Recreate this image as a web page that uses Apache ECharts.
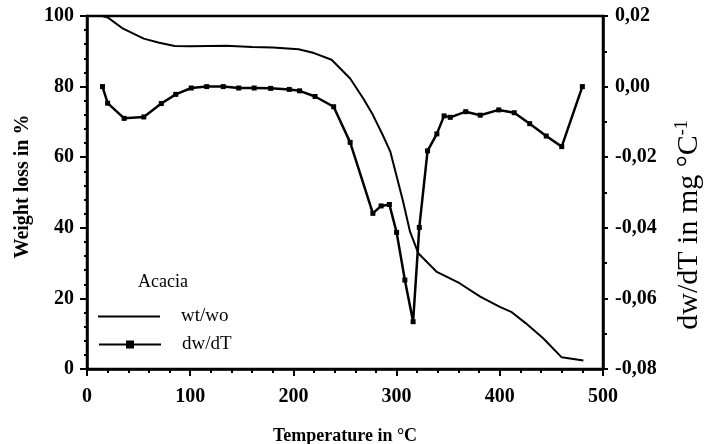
<!DOCTYPE html>
<html>
<head>
<meta charset="utf-8">
<script src="https://cdn.jsdelivr.net/npm/echarts@6/dist/echarts.min.js"></script>
<style>
html,body{margin:0;padding:0;background:#fff;}
#chart{width:704px;height:444px;}
</style>
</head>
<body>
<div id="chart"></div>
<script>
// Weight (wt/wo) curve
const tempW = [15,20,35,55,70,85,100,135,160,180,205,220,237,255,268,277,287,294,306,313,321,339,361,381,400,411,425,442,460,481];
const weight = [100,99.6,96.4,93.6,92.4,91.5,91.4,91.6,91.2,91.1,90.6,89.5,87.6,82.3,76.5,72,66,61.5,47.8,38.9,32.8,27.5,24.3,20.5,17.6,16.2,13,8.7,3.3,2.4];
// Derivative (dw/dT) curve
const tempD = [15,20,36,55,72,86,101,116,132,147,162,178,196,206,221,239,255,277,285,293,300,308,316,322,330,339,346,352,367,381,399,414,429,445,460,480];
const dwdt = [0.0000,-0.0047,-0.0090,-0.0086,-0.0048,-0.0022,-0.0004,0.0000,0.0000,-0.0004,-0.0004,-0.0005,-0.0008,-0.0012,-0.0028,-0.0057,-0.0158,-0.0359,-0.0338,-0.0334,-0.0413,-0.0548,-0.0666,-0.0399,-0.0182,-0.0134,-0.0083,-0.0087,-0.0071,-0.0081,-0.0066,-0.0074,-0.0105,-0.0140,-0.0170,0.0000];
const seriesNames = ['wt/wo', 'dw/dT'];
const sampleName = 'Acacia';
const xTitle = 'Temperature in °C';
const yLeftTitle = 'Weight loss in %';

const FONT = 'Liberation Serif';
const chart = echarts.init(document.getElementById('chart'), null, {renderer:'canvas'});
const axisLine = {show:true, lineStyle:{color:'#000', width:2.5}};
const option = {
  animation:false,
  backgroundColor:'#fff',
  grid:{left:87, right:101, top:16, bottom:75, containLabel:false, outerBoundsMode:'none',
        show:true, borderColor:'#000', borderWidth:2.5, backgroundColor:'transparent'},
  title:{text:sampleName, left:133, top:268, textStyle:{fontFamily:FONT, fontSize:18, fontWeight:'normal', color:'#000'}},
  legend:[
    {data:[{name:seriesNames[0], icon:'rect'}], left:98, top:307, padding:0, orient:'vertical', itemWidth:62, itemHeight:2,
     textStyle:{fontFamily:FONT, fontSize:19, color:'#000', padding:[4,0,0,16]}},
    {data:[seriesNames[1]], left:98, top:335, padding:0, orient:'vertical', itemWidth:62, itemHeight:10,
     textStyle:{fontFamily:FONT, fontSize:19, color:'#000', padding:[2,0,0,16]}}
  ],
  xAxis:{type:'value', min:0, max:500, interval:100,
    name:xTitle, nameLocation:'middle', nameGap:58,
    nameTextStyle:{fontFamily:FONT, fontSize:18, fontWeight:'bold', color:'#000'},
    axisLine:axisLine,
    axisTick:{show:true, length:7, lineStyle:{color:'#000', width:2}},
    minorTick:{show:true, splitNumber:5, length:4, lineStyle:{color:'#000', width:2}},
    splitLine:{show:false},
    axisLabel:{margin:18, fontFamily:FONT, fontSize:20, fontWeight:'bold', color:'#000'}
  },
  yAxis:[
    {type:'value', min:0, max:100, interval:20, position:'left',
     name:yLeftTitle, nameLocation:'middle', nameGap:54,
     nameTextStyle:{fontFamily:FONT, fontSize:20, fontWeight:'bold', color:'#000', padding:[0,0,0,12]},
     axisLine:axisLine,
     axisTick:{show:true, length:7, lineStyle:{color:'#000', width:2}},
     minorTick:{show:true, splitNumber:5, length:3, lineStyle:{color:'#000', width:2}},
     splitLine:{show:false},
     axisLabel:{margin:13, fontFamily:FONT, fontSize:20, fontWeight:'bold', color:'#000'}
    },
    {type:'value', min:-0.08, max:0.02, interval:0.02, position:'right',
     axisLine:axisLine,
     axisTick:{show:true, length:5, lineStyle:{color:'#000', width:2}},
     minorTick:{show:true, splitNumber:2, length:4, lineStyle:{color:'#000', width:2}},
     splitLine:{show:false},
     axisLabel:{margin:12, fontFamily:FONT, fontSize:20, fontWeight:'bold', color:'#000',
       formatter:v => v.toFixed(2).replace('.', ',').replace('-0,00','0,00')}
    }
  ],
  graphic:[
    {type:'text', x:689, y:225, rotation:Math.PI/2,
     style:{text:'{a|dw/dT in mg °C}{s|-1}', align:'center', verticalAlign:'middle',
       rich:{a:{fontFamily:FONT, fontSize:30, fill:'#000'}, s:{fontFamily:FONT, fontSize:18, fill:'#000', padding:[0,0,14,0]}}}}
  ],
  series:[
    {name:seriesNames[0], type:'line', yAxisIndex:0, symbol:'none', showSymbol:false,
     lineStyle:{color:'#000', width:2}, itemStyle:{color:'#000'},
     data:tempW.map((t,i)=>[t, weight[i]])},
    {name:seriesNames[1], type:'line', yAxisIndex:1, symbol:'rect', symbolSize:5, showSymbol:true,
     lineStyle:{color:'#000', width:2.5}, itemStyle:{color:'#000'},
     data:tempD.map((t,i)=>[t, dwdt[i]])}
  ]
};
chart.setOption(option);
</script>
</body>
</html>
